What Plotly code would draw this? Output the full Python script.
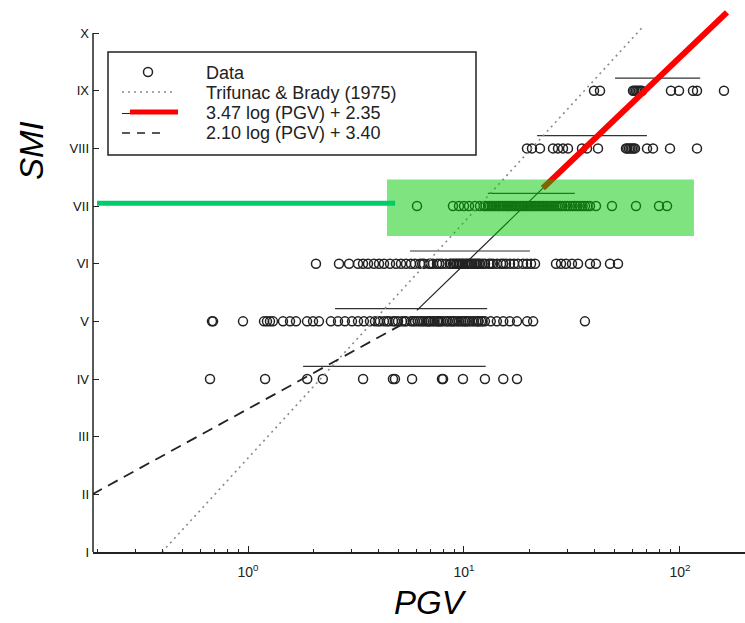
import plotly.graph_objects as go

# ---------------- data ----------------
levels = [4, 5, 6, 7, 8, 9]
level_labels = ["I", "II", "III", "IV", "V", "VI", "VII", "VIII", "IX", "X"]
level_values = [1, 2, 3, 4, 5, 6, 7, 8, 9, 10]

pgv_iv = [0.667, 1.20, 1.88, 2.22, 3.41, 4.69, 4.79, 5.75, 7.91, 8.0, 9.89, 12.5, 15.2, 17.6]
pgv_v = [0.681, 0.689, 0.948, 1.186, 1.224, 1.264, 1.305, 1.452, 1.565, 1.668, 1.876, 2.0,
         2.13, 2.42, 2.61, 2.81, 3.03, 3.23, 3.44, 3.67, 3.87, 4.08, 4.26, 4.49, 4.69, 4.95,
         5.16, 5.39, 5.68, 5.93, 6.26, 6.53, 6.81, 7.18, 7.50, 7.83, 8.26, 8.61, 9.08, 9.48,
         9.89, 10.4, 10.9, 11.4, 12.0, 12.5, 13.3, 14.2, 15.2, 16.3, 17.6, 19.6, 20.9, 36.3,
         6.7, 7.0, 7.7, 8.8, 10.1, 11.7,
         4.0, 4.4, 4.8, 5.3, 5.8, 6.1, 6.4, 6.9, 7.3, 7.6, 8.0, 8.4, 8.9, 9.3, 9.7, 10.2,
         10.6, 11.1, 11.6, 12.2]
pgv_vi = [2.064, 2.638, 2.936, 3.231, 3.408, 3.594, 3.831, 4.042, 4.263, 4.544, 4.844, 5.109,
          5.389, 5.683, 5.931, 6.256, 6.528, 6.886, 7.186, 7.499, 7.909, 8.254, 8.614, 8.894,
          9.184, 9.482, 9.79, 10.11, 10.43, 10.78, 11.13, 11.49, 11.86, 12.51, 13.05, 13.62,
          14.22, 14.84, 15.65, 16.33, 17.04, 17.78, 18.76, 19.57, 20.43, 21.32, 26.67, 28.13,
          29.66, 31.62, 33.72, 38.31, 40.84, 47.42, 51.64,
          8.7, 9.0, 9.3, 9.6, 9.9, 10.3, 10.6, 10.9, 11.3, 11.7, 6.4, 7.0, 7.7, 12.2, 13.3, 15.2]
pgv_vii = [6.06, 8.89, 9.48, 10.0, 10.55, 11.24, 11.86, 12.38, 12.92, 13.48, 14.07, 14.68,
           15.32, 15.99, 16.68, 17.41, 18.17, 18.96, 19.79, 20.64, 21.54, 22.48, 23.46, 24.48,
           25.55, 26.66, 27.83, 29.35, 30.95, 32.65, 34.43, 36.32, 38.31, 40.84, 48.44, 62.56,
           79.96, 87.08,
           12.6, 13.2, 13.8, 14.4, 15.0, 15.7, 16.3, 17.0, 17.8, 18.6, 19.4, 20.2, 21.1, 22.0,
           23.0, 24.0, 25.0, 26.1, 27.2, 28.5, 30.1, 31.8, 33.5, 35.4, 37.3]
pgv_viii = [19.57, 20.64, 22.48, 25.83, 27.24, 28.73, 30.30, 35.18, 37.10, 41.73, 56.23, 58.06,
            59.95, 61.90, 70.37, 74.99, 89.89, 119.9, 57.0, 59.0, 61.0]
pgv_ix = [40.0, 42.63, 60.6, 62.56, 64.6, 66.7, 90.85, 98.95, 114.9, 119.9, 159.8,
          61.5, 63.5, 65.6]

# range bars drawn just above each intensity row
bar_lo = [1.80, 2.53, 5.62, 12.9, 21.8, 50.0]
bar_hi = [12.6, 12.8, 20.2, 32.6, 70.3, 124.0]

# relationships (end points)
tb_pgv = [0.40, 67.0]
tb_smi = [1.0, 10.1]
solid_pgv = [6.05, 23.2]
solid_smi = [5.19, 7.31]
red_pgv = [23.2, 165.0]
red_smi = [7.31, 10.36]
dash_pgv = [0.19, 5.8]
dash_smi = [2.0, 5.05]

# highlight
hl_x = [4.4, 116.0]
hl_y = [6.48, 7.46]
hl_line_x = [0.2, 4.8]
hl_level = 7.05

legend_texts = ["Data", "Trifunac & Brady (1975)", "3.47 log (PGV) + 2.35", "2.10 log (PGV) + 3.40"]

# ---------------- figure ----------------
W, H = 745, 623
L_M, R_M, T_M, B_M = 93, 0, 10, 71
PW, PH = W - L_M - R_M, H - T_M - B_M
FONT = "Liberation Sans, Arial"


def px(x):
    return (x - L_M) / PW


def py(y):
    return (H - B_M - y) / PH


fig = go.Figure()

rows = [pgv_iv, pgv_v, pgv_vi, pgv_vii, pgv_viii, pgv_ix]
xs, ys = [], []
for lvl, vals in zip(levels, rows):
    xs += vals
    ys += [lvl] * len(vals)

fig.add_trace(go.Scatter(x=xs, y=ys, mode="markers", name="Data",
                         marker=dict(symbol="circle-open", size=9, color="#222",
                                     line=dict(width=1.5, color="#222")),
                         showlegend=False))

bx, by = [], []
for lvl, lo, hi in zip(levels, bar_lo, bar_hi):
    bx += [lo, hi, None]
    by += [lvl + 0.22, lvl + 0.22, None]
fig.add_trace(go.Scatter(x=bx, y=by, mode="lines", line=dict(color="#333", width=1.2),
                         showlegend=False, hoverinfo="skip"))

fig.add_trace(go.Scatter(x=tb_pgv, y=tb_smi, mode="lines", name=legend_texts[1],
                         line=dict(color="#8a8a8a", width=1.6, dash="2px,4px"), showlegend=False))
fig.add_trace(go.Scatter(x=dash_pgv, y=dash_smi, mode="lines", name=legend_texts[3],
                         line=dict(color="#222", width=1.8, dash="11px,7px"), showlegend=False))
fig.add_trace(go.Scatter(x=solid_pgv, y=solid_smi, mode="lines", name=legend_texts[2],
                         line=dict(color="#222", width=1.2), showlegend=False))
fig.add_trace(go.Scatter(x=red_pgv, y=red_smi, mode="lines", name=legend_texts[2],
                         line=dict(color="#ff0000", width=6), showlegend=False))

# y axis line only from I to X
fig.add_shape(type="line", xref="paper", yref="y", x0=0, x1=0, y0=1, y1=10,
              line=dict(color="#222", width=1.5))
# green highlight
fig.add_shape(type="rect", xref="x", yref="y", x0=hl_x[0], x1=hl_x[1], y0=hl_y[0], y1=hl_y[1],
              fillcolor="rgba(0,200,0,0.5)", line=dict(width=0), layer="above")
fig.add_shape(type="line", xref="x", yref="y", x0=hl_line_x[0], x1=hl_line_x[1], y0=hl_level, y1=hl_level,
              line=dict(color="#00cc6a", width=5), layer="above")

# manual legend
fig.add_shape(type="rect", xref="paper", yref="paper", x0=px(108), x1=px(476), y0=py(155), y1=py(52),
              line=dict(color="#222", width=1.5), fillcolor="white", layer="above")
fig.add_shape(type="circle", xref="paper", yref="paper", x0=px(143.5), x1=px(152.5),
              y0=py(76.5), y1=py(67.5), line=dict(color="#222", width=1.5), layer="above")
fig.add_shape(type="line", xref="paper", yref="paper", x0=px(122), x1=px(172), y0=py(92), y1=py(92),
              line=dict(color="#8a8a8a", width=1.6, dash="2px,4px"), layer="above")
fig.add_shape(type="line", xref="paper", yref="paper", x0=px(122), x1=px(178), y0=py(113.5), y1=py(113.5),
              line=dict(color="#222", width=1.2), layer="above")
fig.add_shape(type="line", xref="paper", yref="paper", x0=px(130), x1=px(178), y0=py(112), y1=py(112),
              line=dict(color="#ff0000", width=5), layer="above")
fig.add_shape(type="line", xref="paper", yref="paper", x0=px(122), x1=px(165), y0=py(133), y1=py(133),
              line=dict(color="#222", width=1.6, dash="8px,7px"), layer="above")

ann = []
for txt, yy in zip(legend_texts, [73, 93, 113, 133]):
    ann.append(dict(text=txt, xref="paper", yref="paper", x=px(204), y=py(yy), xanchor="left",
                    yanchor="middle", showarrow=False,
                    font=dict(size=18, color="#222", family=FONT)))
ann.append(dict(text="<i>SMI</i>", xref="paper", yref="paper", x=px(31), y=py(150), textangle=-90,
                xanchor="center", yanchor="middle", showarrow=False,
                font=dict(size=33, color="#000", family=FONT)))
ann.append(dict(text="<i>PGV</i>", xref="paper", yref="paper", x=px(430), y=py(602),
                xanchor="center", yanchor="middle", showarrow=False,
                font=dict(size=33, color="#000", family=FONT)))

minor_vals = [m * 10 ** d for d in (-1, 0, 1, 2) for m in range(2, 10)]

fig.update_layout(
    width=W, height=H,
    margin=dict(l=L_M, r=R_M, t=T_M, b=B_M),
    paper_bgcolor="white", plot_bgcolor="white",
    showlegend=False,
    annotations=ann,
    xaxis=dict(type="log", range=[-0.7176, 2.301], showgrid=False, zeroline=False,
               showline=True, linecolor="#222", linewidth=1.5,
               tickmode="array", tickvals=[1, 10, 100],
               ticktext=["10<sup>0</sup>", "10<sup>1</sup>", "10<sup>2</sup>"],
               ticks="inside", ticklen=6, tickcolor="#222", tickwidth=1.2,
               ticklabelstandoff=6,
               tickfont=dict(size=14, color="#222", family=FONT),
               minor=dict(tickmode="array", tickvals=minor_vals, ticks="inside", ticklen=3,
                          tickcolor="#222", tickwidth=1, showgrid=False)),
    yaxis=dict(range=[1, 10.4], showgrid=False, zeroline=False, showline=False,
               tickmode="array", tickvals=level_values, ticktext=level_labels,
               ticks="inside", ticklen=6, tickcolor="#222", tickwidth=1.2,
               ticklabelstandoff=3,
               tickfont=dict(size=13, color="#111", family=FONT)),
)

fig.write_html("out.html")
